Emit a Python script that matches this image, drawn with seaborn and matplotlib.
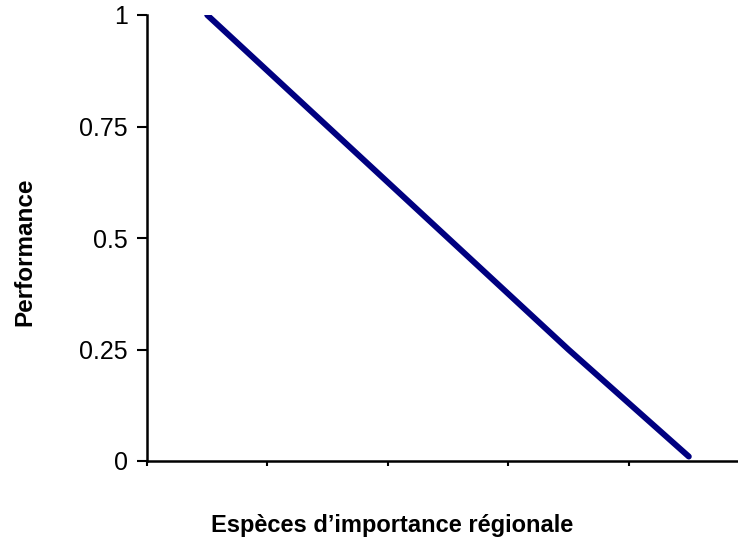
import pandas as pd
import seaborn as sns
import matplotlib.pyplot as plt

# Species ranked by regional importance, performance falls off linearly
categories = [0, 1, 2, 3, 4]
performance = [1.0, 0.75, 0.5, 0.25, 0.01]
y_ticks = [0, 0.25, 0.5, 0.75, 1]
y_tick_labels = ["0", "0.25", "0.5", "0.75", "1"]

df = pd.DataFrame({"cat": categories, "perf": performance})

sns.set_style("ticks")
plt.rcParams["font.family"] = ["Liberation Sans", "DejaVu Sans"]
plt.rcParams["text.color"] = "black"
plt.rcParams["xtick.color"] = "black"
plt.rcParams["ytick.color"] = "black"
plt.rcParams["axes.edgecolor"] = "black"

fig = plt.figure(figsize=(7.38, 5.41), dpi=100)
# axes run a bit past the right edge of the picture, as in the original
ax = fig.add_axes([147 / 738, 80 / 541, 602 / 738, 446 / 541])

sns.lineplot(data=df, x="cat", y="perf", color="#000080", linewidth=4.3,
             solid_capstyle="round", ax=ax)

ax.set_xlim(-0.5, 4.5)
ax.set_ylim(0, 1)
ax.set_xticks([-0.5, 0.5, 1.5, 2.5, 3.5, 4.5])
ax.set_xticklabels([])
ax.set_yticks(y_ticks)
ax.set_yticklabels(y_tick_labels, fontsize=18, color="black")
ax.tick_params(axis="y", length=7.5, width=1.5, color="black", pad=6.5)
ax.tick_params(axis="x", length=3.5, width=1.5, color="black")
ax.set_xlabel("")
ax.set_ylabel("")

for side in ["top", "right"]:
    ax.spines[side].set_visible(False)
for side in ["left", "bottom"]:
    ax.spines[side].set_linewidth(1.8)
    ax.spines[side].set_color("black")

fig.text(392.5 / 738, 1 - 532 / 541, "Espèces d\u2019importance régionale",
         ha="center", va="baseline", fontsize=17, fontweight="bold",
         color="black")
fig.text(25 / 738, 1 - 252 / 541, "Performance", rotation=90,
         ha="center", va="center", fontsize=17.5, fontweight="bold",
         color="black")

fig.savefig("out.png", dpi=100)
